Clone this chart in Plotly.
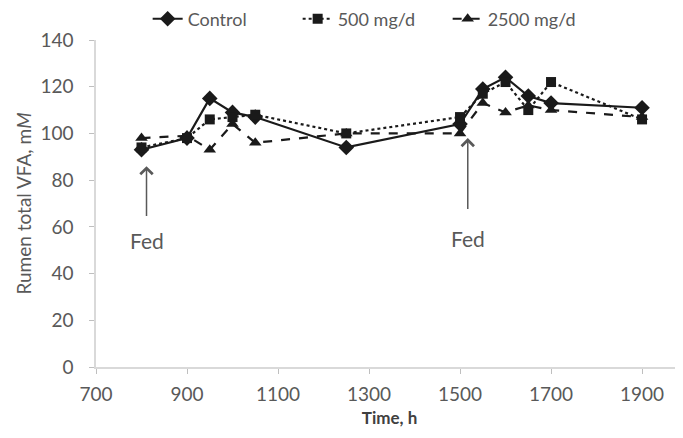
import plotly.graph_objects as go

time_h = [800, 900, 950, 1000, 1050, 1250, 1500, 1550, 1600, 1650, 1700, 1900]
control = [93, 98, 115, 109, 107, 94, 104, 119, 124, 116, 113, 111]
mg500 = [94, 98, 106, 107, 108, 100, 107, 117, 122, 110, 122, 106]
mg2500 = [98, 99, 93, 104, 96, 100, 100, 113, 109, 112, 110, 107]
x_ticks = [700, 900, 1100, 1300, 1500, 1700, 1900]
y_ticks = [0, 20, 40, 60, 80, 100, 120, 140]
fed_x = [811, 1517]
fed_head = [86, 98]
fed_tail = [64, 67]
fed_label_y = [54, 55]

font_fam = "Lato, Open Sans, sans-serif"

fig = go.Figure()
series = [
    ("Control", control, "solid", "diamond", 12),
    ("500 mg/d", mg500, "dot", "square", 10),
    ("2500 mg/d", mg2500, "dash", "triangle-up", 11),
]
for name, vals, dash, sym, ms in series:
    fig.add_trace(go.Scatter(
        x=time_h, y=vals, name=name, mode="lines+markers",
        line=dict(color="#1a1a1a", width=2.2, dash=dash),
        marker=dict(symbol=sym, size=ms, color="#1a1a1a"),
    ))

for fx, hy, ty, ly in zip(fed_x, fed_head, fed_tail, fed_label_y):
    fig.add_annotation(x=fx, y=hy, ax=fx, ay=ty, xref="x", yref="y",
                       axref="x", ayref="y", text="", showarrow=True,
                       arrowhead=4, arrowsize=1.6, arrowwidth=1.5,
                       arrowcolor="#595959")
    fig.add_annotation(x=fx, y=ly, xref="x", yref="y", text="Fed",
                       showarrow=False,
                       font=dict(size=21, color="#595959", family=font_fam))

fig.update_layout(
    width=683, height=438,
    margin=dict(l=88, r=8, t=32, b=79, autoexpand=False),
    paper_bgcolor="white", plot_bgcolor="white",
    font=dict(family=font_fam, color="#595959", size=18),
    legend=dict(orientation="h", x=0.088, xanchor="left", y=1.064,
                yanchor="middle", font=dict(size=18, color="#595959"),
                tracegroupgap=0, entrywidth=105, entrywidthmode="pixels"),
    showlegend=True,
)
fig.update_xaxes(range=[700, 1990], tickvals=x_ticks, showgrid=False,
                 showline=True, linecolor="#d9d9d9", linewidth=1.5,
                 ticks="outside", tickcolor="#bfbfbf", ticklen=5,
                 ticklabelstandoff=4, zeroline=False,
                 title=dict(text="<b>Time, h</b>", font=dict(size=17, color="#404040"),
                            standoff=9),
                 tickfont=dict(size=19, color="#595959"))
fig.update_yaxes(range=[0, 140], tickvals=y_ticks, showgrid=False,
                 showline=True, linecolor="#d9d9d9", linewidth=1.5,
                 ticks="outside", tickcolor="#bfbfbf", ticklen=5,
                 ticklabelstandoff=12, zeroline=False,
                 title=dict(text="Rumen total VFA, m<i>M</i>",
                            font=dict(size=19, color="#595959"), standoff=4),
                 tickfont=dict(size=19, color="#595959"))

fig.write_html("out.html")
